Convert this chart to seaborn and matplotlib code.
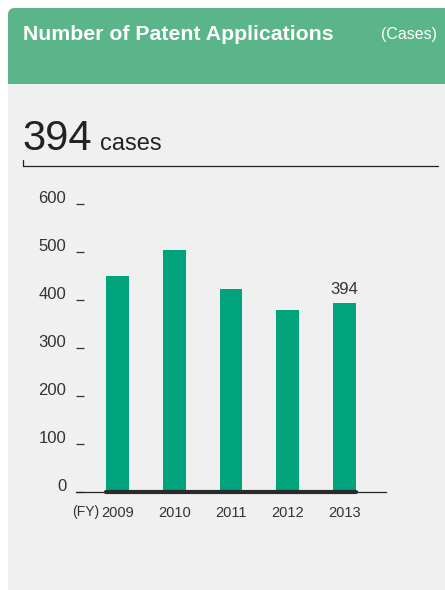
import matplotlib
matplotlib.use("Agg")
import matplotlib.pyplot as plt
from matplotlib.patches import Rectangle, FancyBboxPatch
import matplotlib.transforms as mtransforms
import pandas as pd
import seaborn as sns

# --- data ---
years = ["2009", "2010", "2011", "2012", "2013"]
applications = [451, 504, 422, 380, 394]
y_ticks = [0, 100, 200, 300, 400, 500, 600]
headline = "394"
last_label = "394"

HEADER_GREEN = "#5BB58A"
BAR_GREEN = "#00A37B"
PANEL_GREY = "#F0F0F0"
TEXT_DARK = "#333333"

sns.set_theme(style="white")
plt.rcParams["font.family"] = ["Liberation Sans", "DejaVu Sans"]

W, H = 445, 590
fig = plt.figure(figsize=(W / 100, H / 100), dpi=100)
fig.patch.set_facecolor("white")


def fx(px):
    return px / W


def fy(py):
    return 1 - py / H


# background panel and green header (rounded top-left corner only)
fig.patches.append(Rectangle((fx(8), 0), fx(W - 8) + 0.01, fy(84), transform=fig.transFigure,
                             facecolor=PANEL_GREY, edgecolor="none", zorder=-10))
fig.patches.append(FancyBboxPatch((fx(8), fy(84)), fx(W - 8) + 0.05, (84 - 8) / H,
                                  boxstyle="round,pad=0,rounding_size=0.015",
                                  transform=fig.transFigure, facecolor=HEADER_GREEN,
                                  edgecolor="none", zorder=-10, mutation_aspect=W / H))
fig.patches.append(Rectangle((fx(8), fy(84)), fx(W - 8) + 0.01, 30 / H, transform=fig.transFigure,
                             facecolor=HEADER_GREEN, edgecolor="none", zorder=-9))

fig.text(fx(23), fy(35), "Number of Patent Applications", color="white", fontsize=15.3,
         fontweight="bold", va="center", ha="left")
fig.text(fx(437), fy(35), "(Cases)", color="white", fontsize=11.5, va="center", ha="right")

# headline number
fig.text(fx(22), fy(150), headline, color="#222222", fontsize=30, ha="left", va="baseline")
fig.text(fx(100), fy(150), "cases", color="#222222", fontsize=17, ha="left", va="baseline")
fig.add_artist(plt.Line2D([fx(23), fx(438)], [fy(166), fy(166)], color="#222222", lw=0.9,
                          transform=fig.transFigure))
fig.add_artist(plt.Line2D([fx(23), fx(23)], [fy(166), fy(160)], color="#222222", lw=0.9,
                          transform=fig.transFigure))

# chart
ax = fig.add_axes([fx(76), fy(492), fx(386) - fx(76), (492 - 204) / H])
ax.set_facecolor("none")
df = pd.DataFrame({"year": years, "cases": applications})
sns.barplot(data=df, x="year", y="cases", color=BAR_GREEN, saturation=1, width=0.4,
            linewidth=0, ax=ax)

ax.set_xlim(-0.73, len(years) - 1 + 0.73)
ax.set_ylim(0, 600)
for s in ["top", "right", "left"]:
    ax.spines[s].set_visible(False)
ax.spines["bottom"].set_color("#222222")
ax.spines["bottom"].set_linewidth(0.9)
ax.plot([-0.2, len(years) - 1 + 0.2], [0, 0], color="#2a2a2a", lw=3, solid_capstyle="round",
        zorder=5, clip_on=False)

ax.set_yticks(y_ticks)
ax.set_yticklabels([str(v) for v in y_ticks])
ax.tick_params(axis="y", left=True, direction="in", length=5.5, width=0.9, color="#333333",
               pad=7, labelsize=12, labelcolor=TEXT_DARK)
ax.tick_params(axis="x", bottom=False, length=0, pad=10, labelsize=10.5, labelcolor=TEXT_DARK)
offset = mtransforms.ScaledTranslation(0, 5 / 72, fig.dpi_scale_trans)
for lbl in ax.get_yticklabels():
    lbl.set_transform(lbl.get_transform() + offset)
ax.set_xlabel("")
ax.set_ylabel("")

fig.text(fx(99), fy(512), "(FY)", color=TEXT_DARK, fontsize=10, ha="right", va="center")

ax.text(len(years) - 1, applications[-1] + 12, last_label, ha="center", va="bottom",
        fontsize=12, color=TEXT_DARK)

fig.savefig("out.png", dpi=100, facecolor=fig.get_facecolor())
